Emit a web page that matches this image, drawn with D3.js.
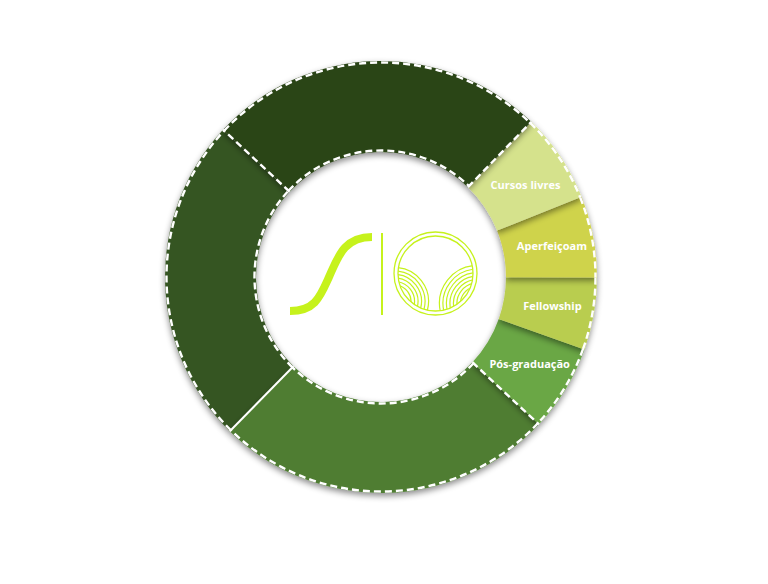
<!DOCTYPE html>
<html>
<head>
<meta charset="utf-8">
<script src="https://cdn.jsdelivr.net/npm/d3@7/dist/d3.min.js"></script>
<style>
  body { margin: 0; background: #fff; }
  svg { display: block; }
</style>
</head>
<body>
<div id="chart"></div>
<script>
// slices, clockwise starting at the upper-left boundary
var categories = ["", "Cursos livres", "Aperfeiçoam", "Fellowship", "Pós-graduação", "", ""];
var values = [25.3, 6.7, 6.1, 5.4, 6.5, 25.4, 24.6];
var colors = ["#2c4519", "#d5e28c", "#cfd34c", "#b9cd50", "#6aa744", "#4f7d33", "#365422"];

// border drawn at the start edge of each slice, and whether the inner arc gets the dashed outline
var edgeStyle = ["dash", "dash", "none", "none", "none", "dash", "solid"];
var dashedInner = [true, false, false, false, false, true, true];

var width = 768, height = 584;
var cx = 381, cy = 277;
var outerR = 216, innerR = 125;
var startDeg = -47;
var dash = "7,4";

var svg = d3.select("#chart").append("svg")
    .attr("width", width)
    .attr("height", height);

var defs = svg.append("defs");
var shadow = defs.append("filter")
    .attr("id", "shadow")
    .attr("x", "-20%").attr("y", "-20%")
    .attr("width", "140%").attr("height", "140%");
shadow.append("feDropShadow")
    .attr("dx", 0).attr("dy", 3)
    .attr("stdDeviation", 3)
    .attr("flood-color", "#000")
    .attr("flood-opacity", 0.45);

var g = svg.append("g").attr("transform", "translate(" + cx + "," + cy + ")");

var pie = d3.pie()
    .sort(null)
    .value(function(d) { return d; })
    .startAngle(startDeg * Math.PI / 180)
    .endAngle(startDeg * Math.PI / 180 + 2 * Math.PI);

var arcs = pie(values);

var arc = d3.arc().innerRadius(innerR).outerRadius(outerR);

// draw later slices first so each slice casts its shadow onto the next one
g.selectAll("path.slice")
  .data(arcs.slice().reverse())
  .enter()
  .append("path")
  .attr("class", "slice")
  .attr("d", arc)
  .attr("fill", function(d) { return colors[d.index]; })
  .attr("filter", "url(#shadow)");

function arcStroke(r) {
  return function(d) {
    var a = d3.path();
    a.arc(0, 0, r, d.startAngle - Math.PI / 2, d.endAngle - Math.PI / 2);
    return a.toString();
  };
}

// dashed outer / inner outlines
g.selectAll("path.outerDash")
  .data(arcs)
  .enter()
  .append("path")
  .attr("class", "outerDash")
  .attr("d", arcStroke(outerR - 1.5))
  .attr("fill", "none")
  .attr("stroke", "#fff")
  .attr("stroke-width", 2.4)
  .attr("stroke-dasharray", dash);

g.selectAll("path.innerDash")
  .data(arcs.filter(function(d) { return dashedInner[d.index]; }))
  .enter()
  .append("path")
  .attr("class", "innerDash")
  .attr("d", arcStroke(innerR + 1.5))
  .attr("fill", "none")
  .attr("stroke", "#fff")
  .attr("stroke-width", 2.4)
  .attr("stroke-dasharray", dash);

// radial borders
g.selectAll("line.edge")
  .data(arcs.filter(function(d) { return edgeStyle[d.index] != "none"; }))
  .enter()
  .append("line")
  .attr("class", "edge")
  .attr("x1", function(d) { return innerR * Math.sin(d.startAngle); })
  .attr("y1", function(d) { return -innerR * Math.cos(d.startAngle); })
  .attr("x2", function(d) { return outerR * Math.sin(d.startAngle); })
  .attr("y2", function(d) { return -outerR * Math.cos(d.startAngle); })
  .attr("stroke", "#fff")
  .attr("stroke-width", function(d) { return edgeStyle[d.index] == "dash" ? 2.4 : 2; })
  .attr("stroke-dasharray", function(d) { return edgeStyle[d.index] == "dash" ? dash : null; });

// labels, pulled a little toward the horizontal
g.selectAll("text.label")
  .data(arcs.filter(function(d) { return categories[d.index] != ""; }))
  .enter()
  .append("text")
  .attr("class", "label")
  .attr("x", function(d) { var a = (d.startAngle + d.endAngle) / 2; return 174 * Math.sin(a); })
  .attr("y", function(d) { var a = (d.startAngle + d.endAngle) / 2; return -166 * Math.cos(a); })
  .attr("text-anchor", "middle")
  .attr("dominant-baseline", "central")
  .attr("fill", "#fff")
  .attr("font-family", "'Open Sans', sans-serif")
  .attr("font-weight", 700)
  .attr("font-size", "11px")
  .text(function(d) { return categories[d.index]; });

// logo in the hole
var lime = "#c6f21c";
var logo = g.append("g");

logo.append("path")
  .attr("d", "M-91,34 C-66,34 -61,20 -52,0 C-43,-20 -37,-40 -9,-40")
  .attr("fill", "none")
  .attr("stroke", lime)
  .attr("stroke-width", 8);

logo.append("line")
  .attr("x1", 1).attr("y1", -44)
  .attr("x2", 1).attr("y2", 38)
  .attr("stroke", lime)
  .attr("stroke-width", 2);

var lx = 54.5, ly = -3.5;
defs.append("clipPath").attr("id", "logoClip")
  .append("circle").attr("cx", lx).attr("cy", ly).attr("r", 37.5);

logo.append("circle")
  .attr("cx", lx).attr("cy", ly).attr("r", 41.5)
  .attr("fill", "none").attr("stroke", lime).attr("stroke-width", 1.3);
logo.append("circle")
  .attr("cx", lx).attr("cy", ly).attr("r", 37.5)
  .attr("fill", "none").attr("stroke", lime).attr("stroke-width", 1.3);

var fields = logo.append("g").attr("clip-path", "url(#logoClip)");
var leftRadii = [34, 30.5, 27, 23.5, 20, 16.5];
var rightRadii = [38, 34.5, 31, 27.5, 24, 20.5, 17, 13.5];

fields.selectAll("path.left")
  .data(leftRadii)
  .enter()
  .append("path")
  .attr("transform", "translate(" + (lx - 41) + "," + (ly + 28) + ")")
  .attr("d", function(r) { return d3.arc()({ innerRadius: r, outerRadius: r, startAngle: 0, endAngle: Math.PI * 0.58 }); })
  .attr("fill", "none").attr("stroke", lime).attr("stroke-width", 1.2);

fields.selectAll("path.right")
  .data(rightRadii)
  .enter()
  .append("path")
  .attr("transform", "translate(" + (lx + 42) + "," + (ly + 30) + ")")
  .attr("d", function(r) { return d3.arc()({ innerRadius: r, outerRadius: r, startAngle: -Math.PI * 0.58, endAngle: 0 }); })
  .attr("fill", "none").attr("stroke", lime).attr("stroke-width", 1.2);
</script>
</body>
</html>
